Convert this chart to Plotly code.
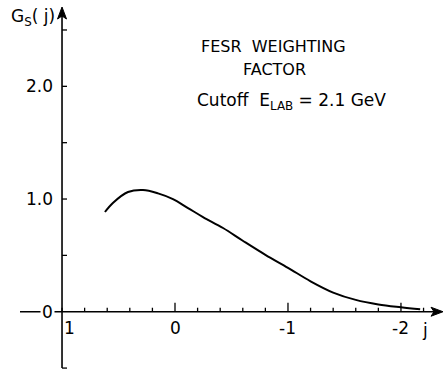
import plotly.graph_objects as go

# data
j_vals = [0.62, 0.55, 0.416, 0.283, 0.15, 0.018, -0.115, -0.248, -0.425, -0.6, -0.8, -1.0, -1.2, -1.4, -1.6, -1.8, -2.0, -2.17]
g_vals = [0.885, 0.965, 1.062, 1.08, 1.05, 0.999, 0.92, 0.84, 0.743, 0.63, 0.505, 0.39, 0.27, 0.17, 0.105, 0.065, 0.04, 0.022]

x_minor_ticks = [1.0, 0.8, 0.6, 0.4, 0.2, -0.2, -0.4, -0.6, -0.8, -1.2, -1.4, -1.6, -1.8, -2.2]
x_major_ticks = [0.0, -1.0, -2.0]
x_tick_labels = {1.0: "1", 0.0: "0", -1.0: "-1", -2.0: "-2"}
y_ticks = [-0.5, 0.5, 1.0, 1.5, 2.0, 2.5]
y_tick_labels = {2.0: "2.0", 1.0: "1.0", 0.0: "0"}

FONT = "DejaVu Sans"
BLACK = "black"

# axis ranges (plot area covers the whole page)
W, H = 444, 370
XR = [1.549, -2.381]
YR = [-0.517, 2.766]
px_per_x = W / (XR[0] - XR[1])
px_per_y = H / (YR[1] - YR[0])


def px2x(px):
    return XR[0] - px / px_per_x


def py2y(py):
    return YR[1] - py / px_per_y


fig = go.Figure()
fig.add_trace(go.Scatter(x=j_vals, y=g_vals, mode="lines",
                         line=dict(color=BLACK, width=2, shape="spline", smoothing=1.0),
                         hoverinfo="skip", showlegend=False))

shapes = []
# x axis line (extends left of y axis)
shapes.append(dict(type="line", xref="x", yref="y", x0=px2x(20), x1=px2x(436), y0=0, y1=0,
                   line=dict(color=BLACK, width=1.6)))
# y axis line
shapes.append(dict(type="line", xref="x", yref="y", x0=1.0, x1=1.0, y0=-0.5, y1=py2y(16),
                   line=dict(color=BLACK, width=1.6)))
# arrow heads
ax_tip = px2x(443)
ax_base = px2x(431)
dy = 4.5 / px_per_y
shapes.append(dict(type="path", xref="x", yref="y",
                   path=f"M {ax_tip} 0 L {ax_base} {dy} L {px2x(434)} 0 L {ax_base} {-dy} Z",
                   fillcolor=BLACK, line=dict(color=BLACK, width=1)))
ay_tip = py2y(7)
ay_base = py2y(19)
dx = 4.5 / px_per_x
shapes.append(dict(type="path", xref="x", yref="y",
                   path=f"M 1.0 {ay_tip} L {1.0 - dx} {ay_base} L 1.0 {py2y(16)} L {1.0 + dx} {ay_base} Z",
                   fillcolor=BLACK, line=dict(color=BLACK, width=1)))
# x ticks
for t in x_minor_ticks:
    shapes.append(dict(type="line", xref="x", yref="y", x0=t, x1=t, y0=0, y1=4 / px_per_y,
                       line=dict(color=BLACK, width=1.3)))
for t in x_major_ticks:
    shapes.append(dict(type="line", xref="x", yref="y", x0=t, x1=t, y0=0, y1=9 / px_per_y,
                       line=dict(color=BLACK, width=1.3)))
# y ticks
for t in y_ticks:
    shapes.append(dict(type="line", xref="x", yref="y", x0=1.0, x1=1.0 - 5 / px_per_x, y0=t, y1=t,
                       line=dict(color=BLACK, width=1.3)))

annotations = []
# x tick labels
for t, lab in x_tick_labels.items():
    xo = 7 if t == 1.0 else 0
    annotations.append(dict(x=t, y=0, xref="x", yref="y", text=lab, showarrow=False,
                            xshift=xo, yshift=-16, font=dict(family=FONT, size=17, color=BLACK)))
# y tick labels
for t, lab in y_tick_labels.items():
    ann = dict(x=1.0, y=t, xref="x", yref="y", text=lab, showarrow=False,
               xanchor="right", xshift=-7, font=dict(family=FONT, size=17, color=BLACK))
    if t == 0.0:
        ann["bgcolor"] = "white"
        ann["borderpad"] = 1
    annotations.append(ann)
# axis titles
annotations.append(dict(x=px2x(425), y=0, xref="x", yref="y", text="j", showarrow=False,
                        yshift=-18, font=dict(family=FONT, size=17, color=BLACK)))
annotations.append(dict(x=1.0, y=py2y(17), xref="x", yref="y", text="G<sub>S</sub>( j)", showarrow=False,
                        xanchor="right", xshift=-5, font=dict(family=FONT, size=17, color=BLACK)))
# caption text
annotations.append(dict(x=px2x(273), y=py2y(46), xref="x", yref="y", text="FESR  WEIGHTING", showarrow=False,
                        font=dict(family=FONT, size=16, color=BLACK)))
annotations.append(dict(x=px2x(274), y=py2y(69), xref="x", yref="y", text="FACTOR", showarrow=False,
                        font=dict(family=FONT, size=16, color=BLACK)))
annotations.append(dict(x=px2x(291), y=py2y(101), xref="x", yref="y",
                        text="Cutoff  E<sub>LAB</sub> = 2.1 GeV", showarrow=False,
                        font=dict(family=FONT, size=17, color=BLACK)))

fig.update_layout(
    width=W, height=H,
    margin=dict(l=0, r=0, t=0, b=0),
    paper_bgcolor="white", plot_bgcolor="white",
    xaxis=dict(range=XR, visible=False, fixedrange=True),
    yaxis=dict(range=YR, visible=False, fixedrange=True),
    shapes=shapes, annotations=annotations, showlegend=False,
)

fig.write_html("out.html")
